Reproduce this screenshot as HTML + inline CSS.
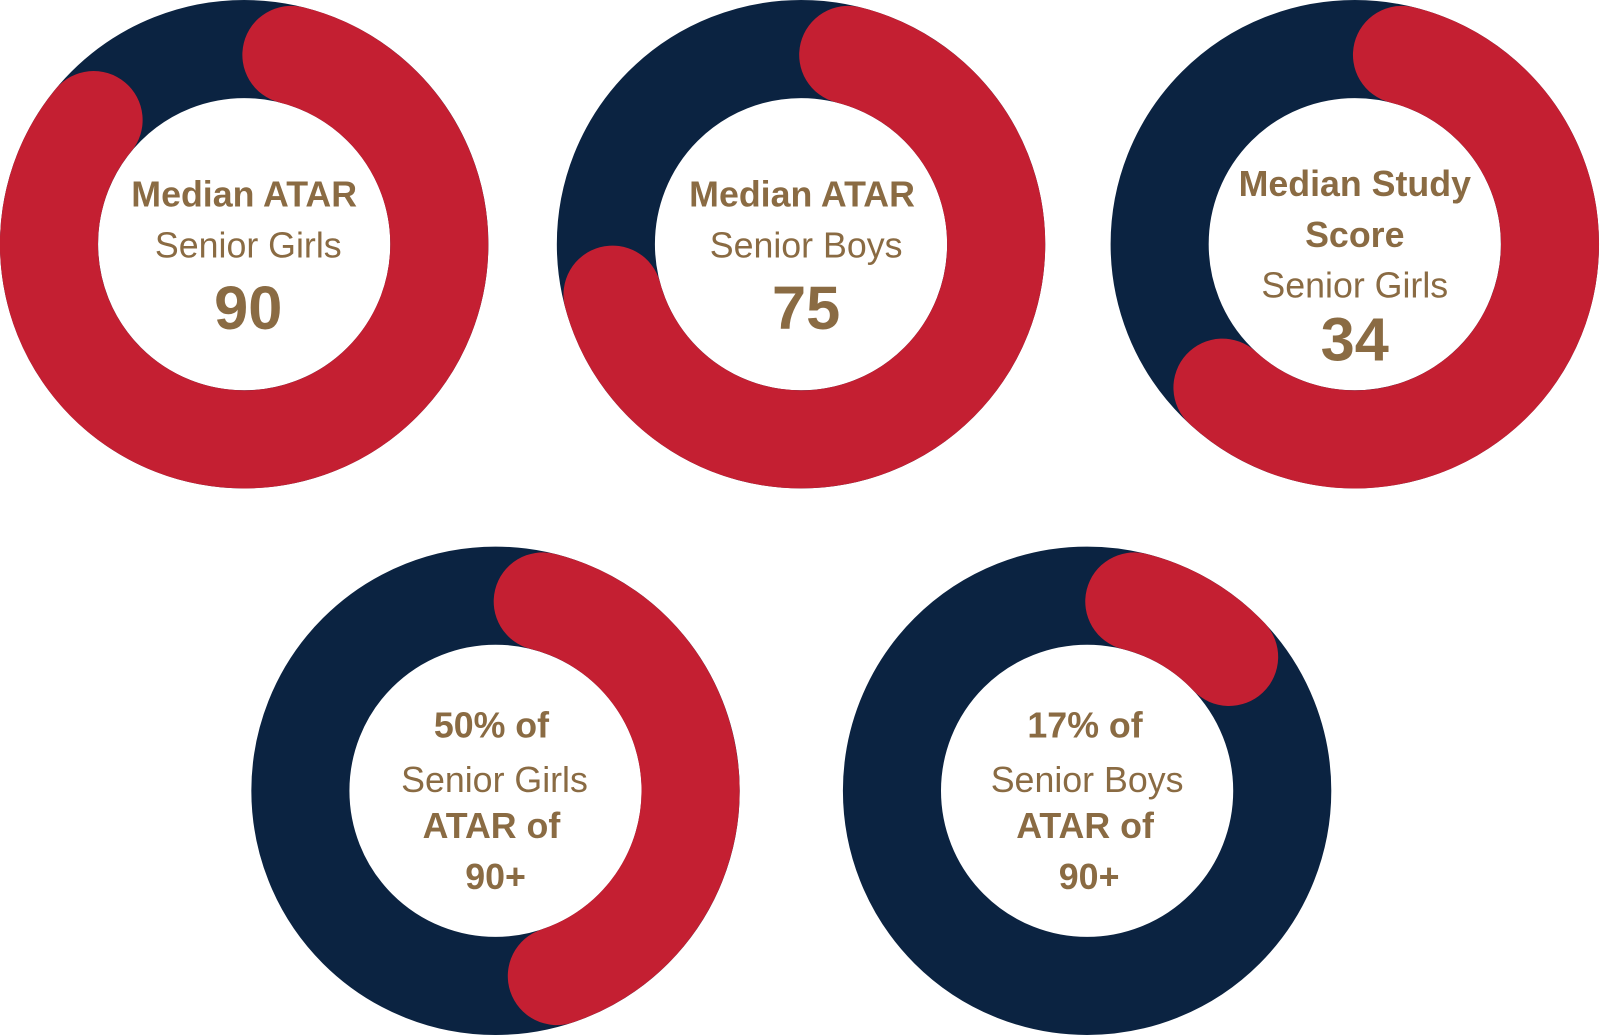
<!DOCTYPE html>
<html><head><meta charset="utf-8"><style>
html,body{margin:0;padding:0;background:#fff;}
svg{display:block;}
text{font-family:"Liberation Sans",sans-serif;fill:#8a6b43;text-anchor:middle;}
.b{font-weight:bold;font-size:35px;}
.l{font-size:35px;}
.n{font-weight:bold;font-size:60px;}
</style></head><body>
<svg width="1600" height="1036" viewBox="0 0 1566 1014" preserveAspectRatio="none" xmlns="http://www.w3.org/2000/svg">
<g fill="none" stroke-width="96">
<circle cx="239" cy="239" r="191" stroke="#0b2341"/>
<path d="M285.2,53.7 A191,191 0 1 1 91.6,117.5" stroke="#c41f32" stroke-linecap="round"/>
<circle cx="784" cy="239" r="191" stroke="#0b2341"/>
<path d="M830.2,53.7 A191,191 0 1 1 599.5,288.4" stroke="#c41f32" stroke-linecap="round"/>
<circle cx="1326" cy="239" r="191" stroke="#0b2341"/>
<path d="M1372.2,53.7 A191,191 0 1 1 1196.5,379.4" stroke="#c41f32" stroke-linecap="round"/>
<circle cx="485" cy="774" r="191" stroke="#0b2341"/>
<path d="M531.2,588.7 A191,191 0 0 1 545,955.3" stroke="#c41f32" stroke-linecap="round"/>
<circle cx="1064" cy="774" r="191" stroke="#0b2341"/>
<path d="M1110.2,588.7 A191,191 0 0 1 1203,643" stroke="#c41f32" stroke-linecap="round"/>
</g>
<text x="239" y="202" class="b">Median ATAR</text>
<text x="243" y="252" class="l">Senior Girls</text>
<text x="243" y="322" class="n">90</text>
<text x="785" y="202" class="b">Median ATAR</text>
<text x="789" y="252" class="l">Senior Boys</text>
<text x="789" y="322" class="n">75</text>
<text x="1326" y="192" class="b">Median Study</text>
<text x="1326" y="242" class="b">Score</text>
<text x="1326" y="291" class="l">Senior Girls</text>
<text x="1326" y="353" class="n">34</text>
<text x="481" y="722" class="b">50% of</text>
<text x="484" y="775" class="l">Senior Girls</text>
<text x="481" y="820" class="b">ATAR of</text>
<text x="485" y="870" class="b">90+</text>
<text x="1062" y="722" class="b">17% of</text>
<text x="1064" y="775" class="l">Senior Boys</text>
<text x="1062" y="820" class="b">ATAR of</text>
<text x="1066" y="870" class="b">90+</text>
</svg>
</body></html>
